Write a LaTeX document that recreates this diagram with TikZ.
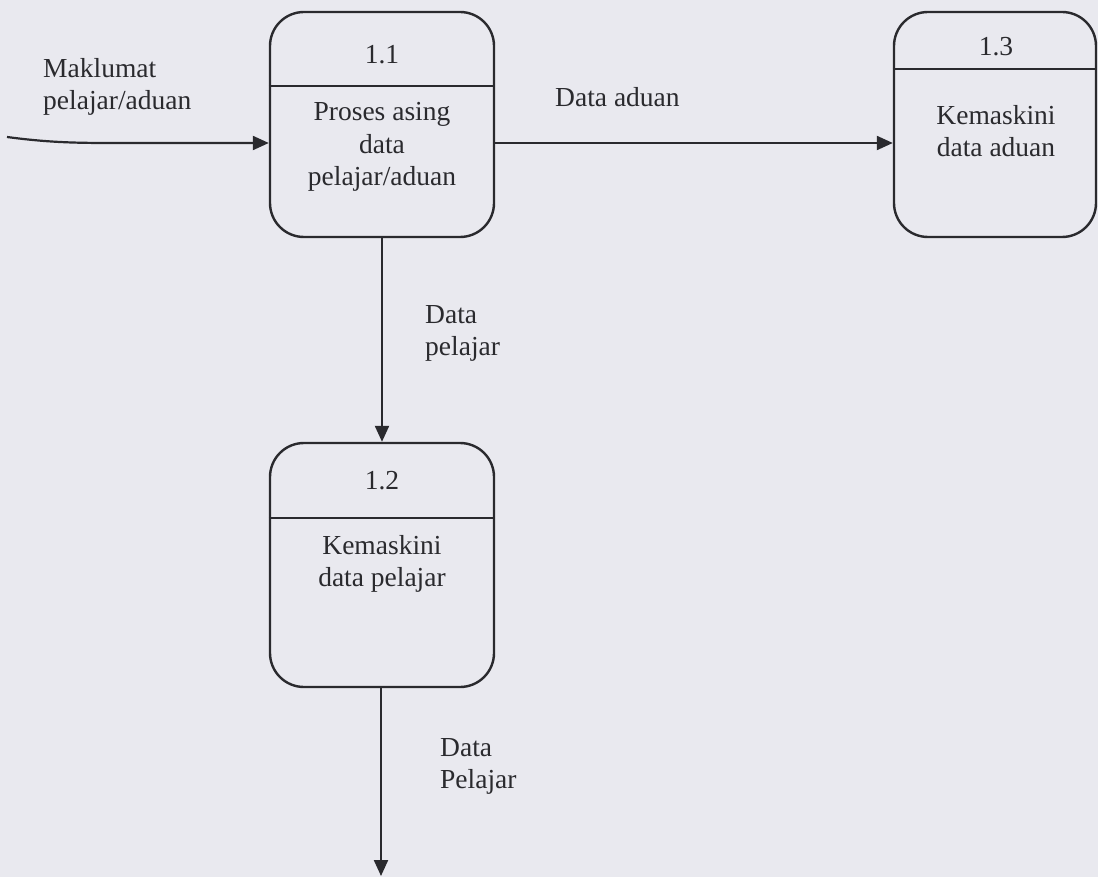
\documentclass[tikz,border=0pt]{standalone}
\usepackage{fontspec}
\setmainfont{Liberation Serif}
\usetikzlibrary{arrows.meta}
\definecolor{paper}{RGB}{233,233,239}
\definecolor{ink}{RGB}{42,42,46}
\begin{document}
\begin{tikzpicture}[x=1pt,y=-1pt,
  every node/.style={text=ink,font=\fontsize{27.5}{32.5}\selectfont},
  procbox/.style={draw=ink,line width=2.4pt,rectangle,rounded corners=34pt,inner sep=0pt},
  divider/.style={draw=ink,line width=2pt},
  flow/.style={draw=ink,line width=2.2pt,-{Triangle[length=16pt,width=14pt]}},
  lbl/.style={align=left,anchor=north west,inner sep=0pt}]
  % page background
  \fill[paper] (0,0) rectangle (1098,877);
  \useasboundingbox (0,0) rectangle (1098,877);

  % process 1.1
  \node[procbox,minimum width=224pt,minimum height=225pt] (p11) at (382,124.5) {};
  \draw[divider] (p11.west |- 0,86) -- (p11.east |- 0,86);
  \node (p11n) at (382,55) {1.1};
  \node[align=center] (p11t) at (382,147) {Proses asing\\data\\pelajar/aduan};

  % process 1.2
  \node[procbox,minimum width=224pt,minimum height=244pt] (p12) at (382,565) {};
  \draw[divider] (p12.west |- 0,518) -- (p12.east |- 0,518);
  \node (p12n) at (382,481) {1.2};
  \node[align=center] (p12t) at (382,564) {Kemaskini\\data pelajar};

  % process 1.3
  \node[procbox,minimum width=202pt,minimum height=225pt] (p13) at (995,124.5) {};
  \draw[divider] (p13.west |- 0,69) -- (p13.east |- 0,69);
  \node (p13n) at (996,47) {1.3};
  \node[align=center] (p13t) at (996,131) {Kemaskini\\data aduan};

  % free ends of the outer flows
  \coordinate (src) at (7,137);
  \coordinate (sink) at (381,876);

  % flows
  \draw[flow] (src) .. controls (45,142) and (70,143) .. (110,143) -- (p11.west |- 0,143);
  \draw[flow] (p11.east |- 0,143) -- (p13.west |- 0,143);
  \draw[flow] (p11.south) -- (p12.north);
  \draw[flow] (p12.south -| sink) -- (sink);

  % flow labels
  \node[lbl] (l1) at (43,58) {Maklumat\\pelajar/aduan};
  \node[lbl] (l2) at (555,87) {Data aduan};
  \node[lbl] (l3) at (425,305) {Data\\pelajar};
  \node[lbl] (l4) at (440,738) {Data\\Pelajar};
\end{tikzpicture}
\end{document}
